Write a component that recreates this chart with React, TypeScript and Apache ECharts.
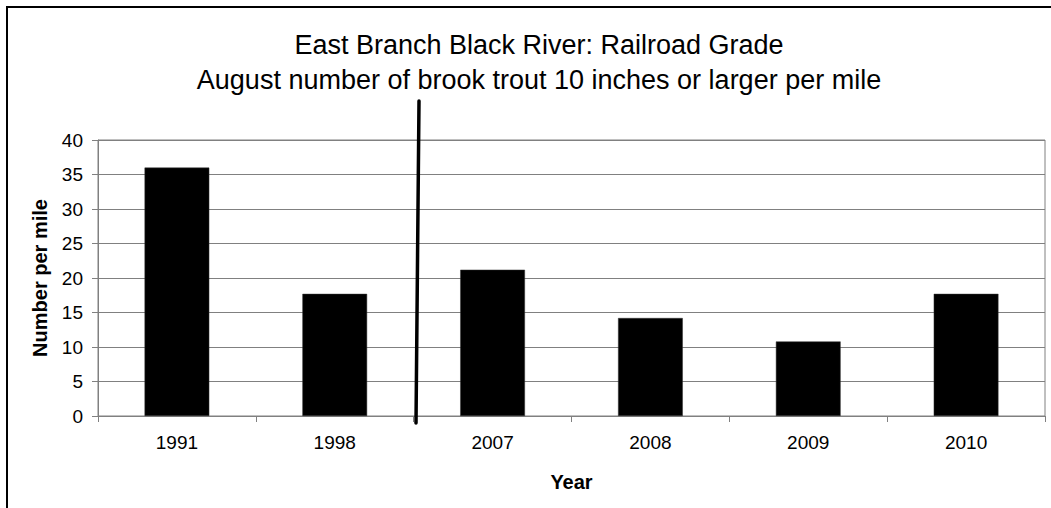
import React, { useEffect, useRef } from "react";
import * as echarts from "echarts";

const years = ["1991", "1998", "2007", "2008", "2009", "2010"];
const troutPerMile = [36, 17.7, 21.2, 14.2, 10.8, 17.7];
const titleLines = [
  "East Branch Black River: Railroad Grade",
  "August number of brook trout 10 inches or larger per mile",
];
const yAxisName = "Number per mile";
const xAxisName = "Year";

const FONT = "'Liberation Sans', Arial, sans-serif";

export default function App() {
  const ref = useRef<HTMLDivElement>(null);
  useEffect(() => {
    document.body.style.margin = "0";
    if (!ref.current) return;
    const chart = echarts.init(ref.current, null, { renderer: "svg" });
    chart.setOption({
      animation: false,
      backgroundColor: "#ffffff",
      textStyle: { fontFamily: FONT },
      title: {
        text: titleLines.join("\n"),
        left: 534,
        top: 22,
        textAlign: "center",
        textStyle: {
          fontFamily: FONT,
          fontSize: 27,
          fontWeight: "normal",
          color: "#000",
          lineHeight: 35,
        },
      },
      grid: {
        left: 98,
        right: 6,
        top: 140,
        bottom: 92,
        show: true,
        borderColor: "#808080",
        borderWidth: 1,
        backgroundColor: "transparent",
      },
      xAxis: {
        type: "category",
        data: years,
        name: xAxisName,
        nameLocation: "middle",
        nameGap: 56,
        nameTextStyle: { fontFamily: FONT, fontSize: 20, fontWeight: "bold", color: "#000" },
        axisLine: { lineStyle: { color: "#808080", width: 1 } },
        axisTick: { show: true, length: 6, lineStyle: { color: "#808080" } },
        axisLabel: { fontFamily: FONT, fontSize: 19, color: "#000", margin: 17 },
      },
      yAxis: {
        type: "value",
        min: 0,
        max: 40,
        interval: 5,
        name: yAxisName,
        nameLocation: "middle",
        nameGap: 48,
        nameRotate: 90,
        nameTextStyle: { fontFamily: FONT, fontSize: 20, fontWeight: "bold", color: "#000" },
        axisLine: { show: true, lineStyle: { color: "#808080", width: 1 } },
        axisTick: { show: true, length: 6, lineStyle: { color: "#808080" } },
        axisLabel: { fontFamily: FONT, fontSize: 19, color: "#000", margin: 15 },
        splitLine: { show: true, lineStyle: { color: "#808080", width: 1 } },
      },
      series: [
        {
          type: "bar",
          data: troutPerMile,
          barWidth: "41%",
          itemStyle: { color: "#000", borderColor: "#333", borderWidth: 0.5 },
        },
      ],
      graphic: [
        {
          type: "rect",
          shape: { x: 7, y: 7, width: 2000, height: 2000 },
          style: { fill: "none", stroke: "#000", lineWidth: 2 },
          silent: true,
        },
        {
          type: "line",
          shape: { x1: 419, y1: 101, x2: 416, y2: 423 },
          style: { stroke: "#000", lineWidth: 3.5, lineCap: "round" },
          z: 100,
          silent: true,
        },
      ],
    });
    return () => chart.dispose();
  }, []);
  return <div ref={ref} style={{ width: 1051, height: 508 }} />;
}
